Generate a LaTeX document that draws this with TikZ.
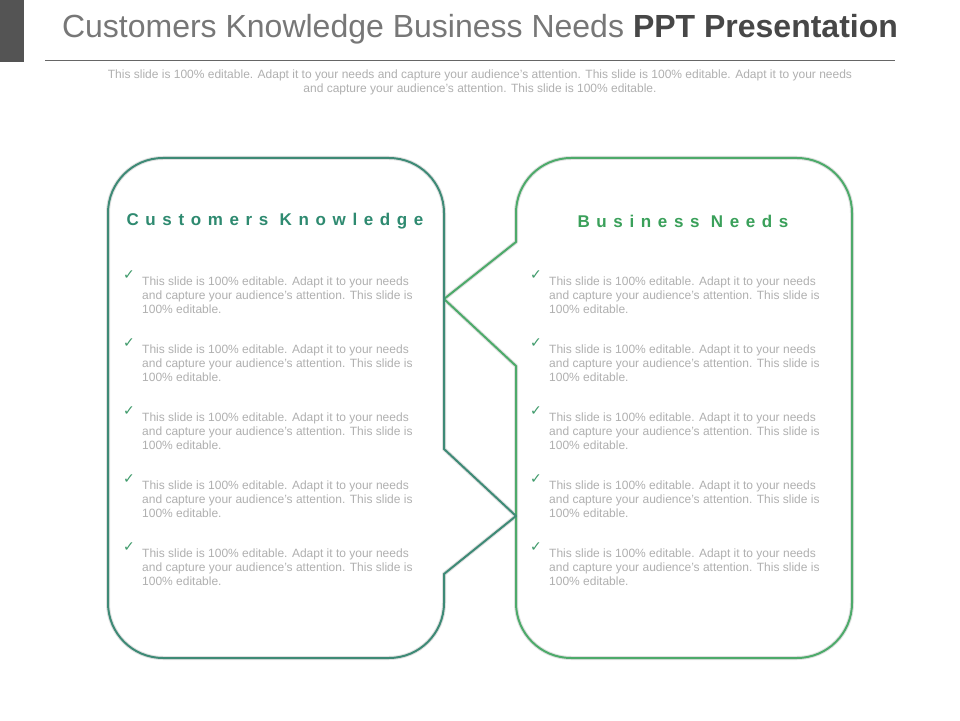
\documentclass[tikz,border=0pt]{standalone}
\usepackage{fontspec}
\setmainfont{Liberation Sans}
\newfontfamily\dejavu{DejaVu Sans}
\definecolor{lbox}{HTML}{3E8A76}
\definecolor{rbox}{HTML}{4DAA6A}
\definecolor{lhead}{HTML}{2E8A70}
\definecolor{rhead}{HTML}{3AA05A}
\definecolor{txt}{HTML}{B0B0B0}
\definecolor{ttl}{HTML}{777777}
\definecolor{chk}{HTML}{3E9A6A}
\begin{document}
\begin{tikzpicture}[x=1pt,y=1pt,
  bul/.style={anchor=north west,inner sep=0pt,font=\fontsize{12}{14}\selectfont,text=txt,align=left},
  ck/.style={anchor=north west,inner sep=0pt,font=\dejavu\bfseries\fontsize{14}{14}\selectfont,text=chk},
  hd/.style={font=\fontsize{17}{17}\selectfont\bfseries\addfontfeatures{LetterSpace=39}},
  shadowline/.style={draw=black!12,line width=4pt,line join=round}]
\useasboundingbox (0,0) rectangle (960,720);
\fill[white] (0,0) rectangle (960,720);
\fill[black!67] (0,658) rectangle (24,720);
\node[font=\fontsize{32}{32}\selectfont,text=ttl,anchor=center] (title) at (480,691) {Customers Knowledge Business Needs \textcolor{black!72}{\bfseries PPT Presentation}};
\draw[black!60,line width=0.8pt] (45,660) coordinate (l1) -- (895,660) coordinate (l2);
\node[font=\fontsize{12}{14}\selectfont,text=txt,align=center] (sub) at (480,638) {This slide is 100\% editable. Adapt it to your needs and capture your audience's attention. This slide is 100\% editable. Adapt it to your needs\\and capture your audience's attention. This slide is 100\% editable.};
\def\rpath{(571,562) -- (797,562) arc[start angle=90,end angle=0,radius=55pt] -- (852,117) arc[start angle=0,end angle=-90,radius=55pt] -- (571,62) arc[start angle=270,end angle=180,radius=55pt] -- (516,354) -- (444,421) -- (516,478) -- (516,507) arc[start angle=180,end angle=90,radius=55pt] -- cycle}
\def\lpath{(163,562) -- (389,562) arc[start angle=90,end angle=0,radius=55pt] -- (444,271) -- (516,204) -- (444,146) -- (444,117) arc[start angle=0,end angle=-90,radius=55pt] -- (163,62) arc[start angle=270,end angle=180,radius=55pt] -- (108,507) arc[start angle=180,end angle=90,radius=55pt] -- cycle}
\draw[shadowline] \rpath;
\draw[shadowline] \lpath;
\draw[rbox,line width=2pt,line join=round] \rpath;
\draw[lbox,line width=2pt,line join=round] \lpath;
\node[hd,text=lhead] (lh) at (275,499) {Customers Knowledge};
\node[hd,text=rhead] (rh) at (683,499) {Business Needs};
\foreach \i in {0,...,4}{
  \pgfmathsetmacro{\yy}{443-68*\i}
  \node[ck] (lc\i) at (123,\yy+7) {✓};
  \node[bul] (lt\i) at (142,\yy) {This slide is 100\% editable. Adapt it to your needs\\and capture your audience's attention. This slide is\\100\% editable.};
  \node[ck] (rc\i) at (530,\yy+7) {✓};
  \node[bul] (rt\i) at (549,\yy) {This slide is 100\% editable. Adapt it to your needs\\and capture your audience's attention. This slide is\\100\% editable.};
}
\end{tikzpicture}
\end{document}
